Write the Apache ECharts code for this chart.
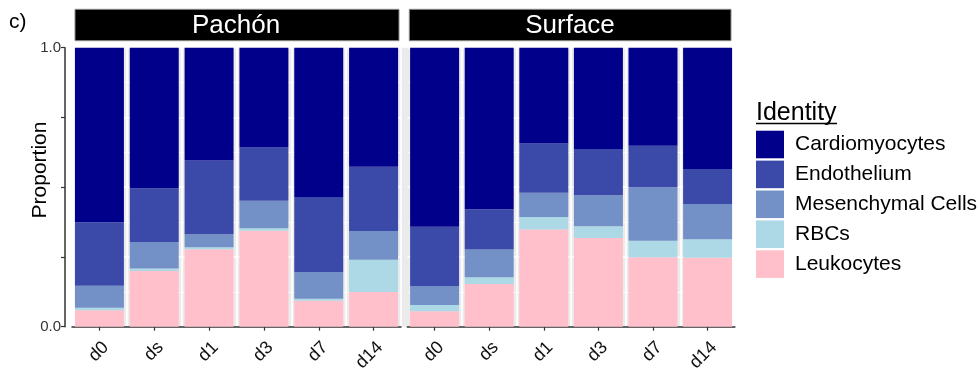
<!DOCTYPE html>
<html><head><meta charset="utf-8">
<script src="https://cdn.jsdelivr.net/npm/echarts@6/dist/echarts.min.js"></script>
<style>html,body{margin:0;padding:0;background:#fff}#c{width:979px;height:376px}</style>
</head><body><div id="c"></div>
<script>
const categories = ['d0','ds','d1','d3','d7','d14'];
const panels = ['Pachón','Surface'];
const identities = ['Cardiomyocytes','Endothelium','Mesenchymal Cells','RBCs','Leukocytes'];
const yTicks = {0:'0.0', 1:'1.0'};

// Pachón
const pachonLeukocytes     = [0.059, 0.200, 0.278, 0.344, 0.093, 0.124];
const pachonRBCs           = [0.009, 0.009, 0.007, 0.009, 0.007, 0.116];
const pachonMesenchymal    = [0.079, 0.095, 0.046, 0.098, 0.096, 0.103];
const pachonEndothelium    = [0.227, 0.192, 0.265, 0.191, 0.269, 0.230];
const pachonCardiomyocytes = [0.626, 0.504, 0.404, 0.358, 0.535, 0.427];
// Surface
const surfaceLeukocytes     = [0.055, 0.153, 0.348, 0.318, 0.249, 0.247];
const surfaceRBCs           = [0.023, 0.024, 0.045, 0.042, 0.059, 0.066];
const surfaceMesenchymal    = [0.068, 0.100, 0.087, 0.111, 0.192, 0.127];
const surfaceEndothelium    = [0.212, 0.144, 0.177, 0.166, 0.149, 0.125];
const surfaceCardiomyocytes = [0.642, 0.579, 0.343, 0.363, 0.351, 0.435];

const colors = {
  'Cardiomyocytes':'#00008B',
  'Endothelium':'#3B4AA8',
  'Mesenchymal Cells':'#7391C7',
  'RBCs':'#ADD8E6',
  'Leukocytes':'#FFC0CB'
};
const panelData = [
  {'Leukocytes':pachonLeukocytes,'RBCs':pachonRBCs,'Mesenchymal Cells':pachonMesenchymal,'Endothelium':pachonEndothelium,'Cardiomyocytes':pachonCardiomyocytes},
  {'Leukocytes':surfaceLeukocytes,'RBCs':surfaceRBCs,'Mesenchymal Cells':surfaceMesenchymal,'Endothelium':surfaceEndothelium,'Cardiomyocytes':surfaceCardiomyocytes}
];
const stackOrder = ['Leukocytes','RBCs','Mesenchymal Cells','Endothelium','Cardiomyocytes'];

const FONT = 'Liberation Sans, Arial, sans-serif';
const grids = [
  {left:72, top:47.7, width:329, height:279},
  {left:407.3, top:47.7, width:327.6, height:279}
];

const xAxes = grids.map((g,i)=>({
  type:'category', gridIndex:i, data:categories, offset:6.5,
  axisLine:{show:true, lineStyle:{color:'#333', width:1.5}},
  axisTick:{show:true, alignWithLabel:true, length:4, lineStyle:{color:'#333', width:1.2}},
  axisLabel:{rotate:45, fontSize:18, color:'#111', fontFamily:FONT, margin:5,
    verticalAlign:'top', lineHeight:18},
  splitLine:{show:true, interval:(idx)=>idx>0, lineStyle:{color:'#ffffff', width:1.6}}
}));
const yAxes = grids.map((g,i)=>({
  type:'value', gridIndex:i, min:0, max:1, interval:0.25,
  offset: i===0 ? 7 : 0,
  axisLine:{show:i===0, lineStyle:{color:'#333', width:1.5}},
  axisTick:{show:i===0, length:4, lineStyle:{color:'#333', width:1.2}},
  axisLabel:{show:i===0, fontSize:15, color:'#333', fontFamily:FONT, margin:4,
    formatter:(v)=> (yTicks[v]!==undefined ? yTicks[v] : '')},
  splitLine:{show:true, lineStyle:{color:'#ffffff', width:1.6}},
  minorTick:{show:false, splitNumber:2},
  minorSplitLine:{show:true, lineStyle:{color:'#ffffff', width:0.8}}
}));

const series = [];
panelData.forEach((pd,pi)=>{
  stackOrder.forEach(name=>{
    series.push({
      type:'bar', name:name, xAxisIndex:pi, yAxisIndex:pi, stack:'p'+pi,
      barWidth:49, data:pd[name], itemStyle:{color:colors[name]},
      emphasis:{disabled:true}
    });
  });
});

const stripY = 9.3, stripH = 31.4;
const option = {
  animation:false,
  grid:grids,
  xAxis:xAxes,
  yAxis:yAxes,
  series:series,
  legend:{
    data:identities, orient:'vertical', left:756, top:130.7, padding:0,
    itemWidth:28, itemHeight:27.6, itemGap:2.3, icon:'rect',
    textStyle:{fontSize:21, color:'#000', fontFamily:FONT, padding:[0,0,0,6]},
    selectedMode:false
  },
  graphic:[
    {type:'rect', z:-10, shape:{x:75, y:47.7, width:656, height:279}, style:{fill:'#EBEBEB'}, silent:true},
    {type:'rect', shape:{x:75, y:stripY, width:324, height:stripH}, style:{fill:'#000', stroke:'#8a8a8a', lineWidth:1}},
    {type:'rect', shape:{x:409.3, y:stripY, width:321.7, height:stripH}, style:{fill:'#000', stroke:'#8a8a8a', lineWidth:1}},
    {type:'text', style:{text:panels[0], x:236, y:stripY+stripH/2+0.5, align:'center', verticalAlign:'middle', fill:'#fff', fontSize:26, fontFamily:FONT}},
    {type:'text', style:{text:panels[1], x:570, y:stripY+stripH/2+0.5, align:'center', verticalAlign:'middle', fill:'#fff', fontSize:26, fontFamily:FONT}},
    {type:'text', style:{text:'c)', x:9, y:22, align:'left', verticalAlign:'middle', fill:'#000', fontSize:21, fontFamily:FONT}},
    {type:'text', rotation:Math.PI/2, x:40, y:170, style:{text:'Proportion', x:0, y:0, align:'center', verticalAlign:'middle', fill:'#000', fontSize:21, fontFamily:FONT}},
    {type:'text', style:{text:'Identity', x:756, y:113, align:'left', verticalAlign:'middle', fill:'#000', fontSize:25, fontFamily:FONT}},
    {type:'line', shape:{x1:756, y1:123.5, x2:837, y2:123.5}, style:{stroke:'#000', lineWidth:1.5}}
  ]
};
const chart = echarts.init(document.getElementById('c'), null, {renderer:'canvas'});
chart.setOption(option);
</script></body></html>
